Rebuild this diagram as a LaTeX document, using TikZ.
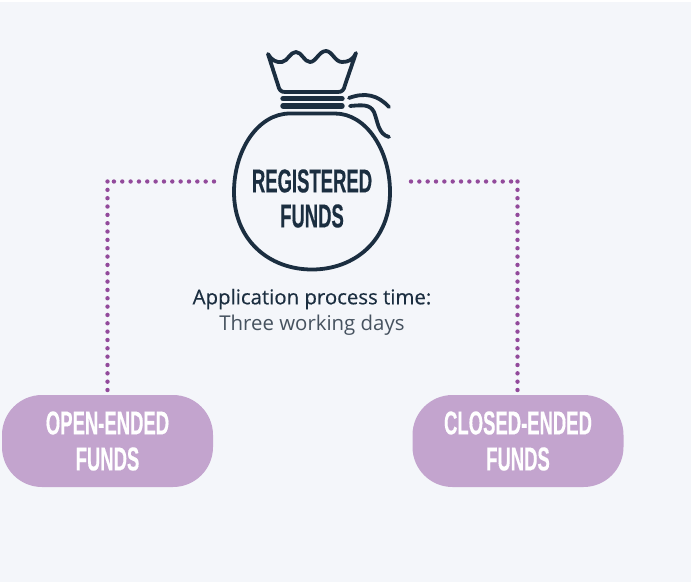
\documentclass[tikz,border=0pt]{standalone}
\usepackage{fontspec}
\setmainfont{Open Sans}
\newfontfamily\headfont[FakeStretch=0.56,FakeBold=0.3]{Liberation Sans Bold}
\newfontfamily\leadfont[FakeBold=0.4]{Open Sans}
\definecolor{bgc}{HTML}{F4F6FA}
\definecolor{navy}{HTML}{1B2E40}
\definecolor{pillc}{HTML}{C3A4CE}
\definecolor{dotc}{HTML}{924A9B}
\definecolor{subc}{HTML}{46525F}
\tikzset{
  bagline/.style={draw=navy,line width=3.8pt,line cap=round,line join=round},
  bagband/.style={draw=navy,line width=5.4pt,line cap=round},
  dotline/.style={draw=dotc,line width=4.4pt,line cap=round,dash pattern=on 0pt off 8.34pt},
  pill/.style={fill=pillc,rounded corners=40pt,minimum width=211pt,minimum height=92pt,text=white,align=center,font=\headfont\fontsize{33}{36}\selectfont},
  headlabel/.style={text=navy,align=center,font=\headfont\fontsize{33}{35}\selectfont},
}
\begin{document}
\begin{tikzpicture}[x=1pt,y=-1pt]
\useasboundingbox (0,0) rectangle (691,582);
\fill[white] (0,0) rectangle (691,582);
\fill[bgc] (0,2) rectangle (691,582);
% bag
\path[bagline] (268,54) .. controls (271,60) and (277,63) .. (282,62)
  .. controls (288,61) and (290,52) .. (296,52)
  .. controls (302,52) and (304,62) .. (310,62)
  .. controls (316,62) and (319,51) .. (326,51)
  .. controls (332,51) and (335,62) .. (342,62)
  .. controls (348,62) and (353,60) .. (356,53)
  -- (345,85) .. controls (344,90) and (342,92) .. (338,92)
  -- (285,92) .. controls (281,92) and (279,90) .. (278,85) -- cycle;
\draw[bagband] (283,98.7) -- (342,98.7);
\draw[bagband] (283,106) -- (342,106);
\path[bagline] (349,98) .. controls (365,92) and (378,95) .. (389,107);
\path[bagline] (350,106) .. controls (362,105) and (370,104) .. (374,112)
  .. controls (378,122) and (378,134) .. (389,137);
\path[bagline] (290,113.5) -- (335,113.5)
  .. controls (366,113.5) and (390,150) .. (390,192)
  .. controls (390,240) and (355,269.5) .. (312,269.5)
  .. controls (269,269.5) and (234,240) .. (234,192)
  .. controls (234,150) and (258,113.5) .. (290,113.5) -- cycle;
% labels
\node[headlabel] (reg) at (312,198.5) {REGISTERED\\FUNDS};
\node[font=\fontsize{20.4}{26}\selectfont,align=center,text=subc] (time) at (312,312)
  {{\leadfont\color{navy}Application process time:}\\Three working days};
\node[pill] (open) at (107.5,441) {OPEN-ENDED\\FUNDS};
\node[pill] (closed) at (518,441) {CLOSED-ENDED\\FUNDS};
% connectors
\coordinate (ls) at (214,181.5);
\coordinate (lc) at (107.5,181.5);
\coordinate (rs) at (411,181.5);
\coordinate (rc) at (517.5,181.5);
\coordinate (le) at (open.north);
\coordinate (re) at (closed.north);
\draw[dotline,shorten >=3pt] (lc) -- (lc |- le);
\draw[dotline] (ls) -- (lc);
\draw[dotline] (rs) -- (rc);
\draw[dotline,shorten >=3pt] (rc) -- (rc |- re);
\end{tikzpicture}
\end{document}
